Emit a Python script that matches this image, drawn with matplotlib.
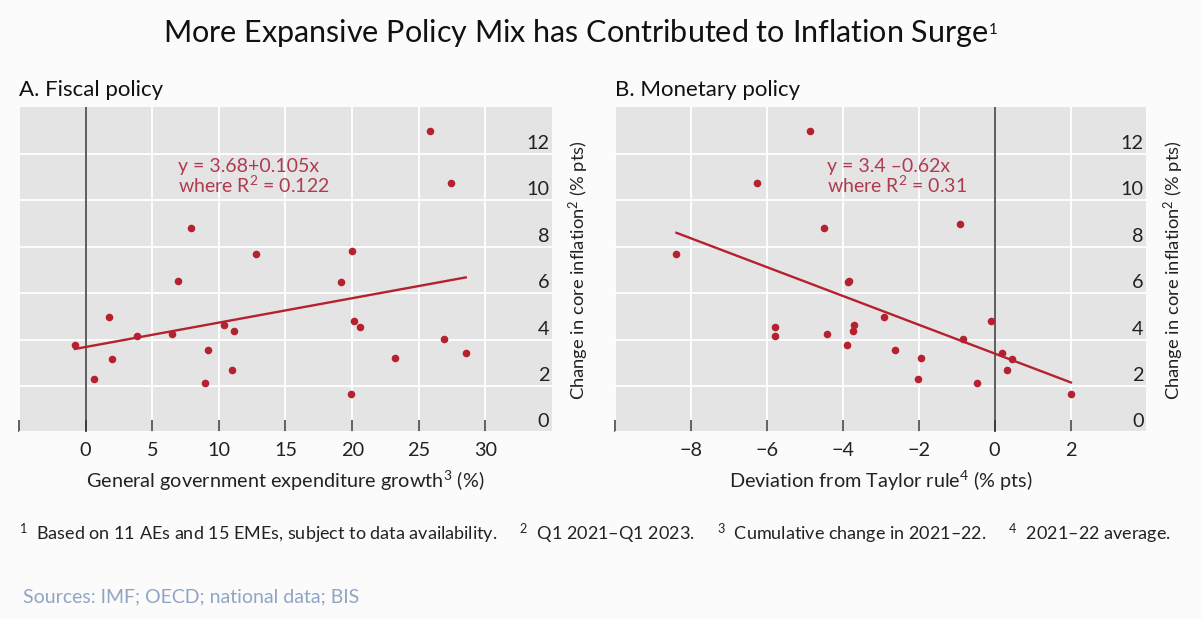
import matplotlib
matplotlib.use("Agg")
import matplotlib.pyplot as plt
import matplotlib.transforms as mtransforms
import numpy as np

plt.rcParams['font.family'] = ['Lato', 'DejaVu Sans']
plt.rcParams['mathtext.fontset'] = 'custom'
plt.rcParams['mathtext.rm'] = 'Lato'
plt.rcParams['mathtext.it'] = 'Lato:italic'
plt.rcParams['mathtext.bf'] = 'Lato:bold'

# --- DATA ---
fiscal_x = [-0.80, 0.60, 1.75, 1.98, 3.84, 6.51, 6.97, 7.89, 8.95, 9.21, 10.38, 10.98,
            11.16, 12.82, 19.13, 19.90, 19.99, 20.13, 20.59, 23.20, 25.87, 26.87, 27.44, 28.53]
fiscal_y = [3.76, 2.29, 4.97, 3.15, 4.14, 4.25, 6.54, 8.82, 2.13, 3.53, 4.64, 2.69,
            4.39, 7.68, 6.49, 1.67, 7.81, 4.82, 4.54, 3.22, 12.98, 4.02, 10.74, 3.42]

monetary_x = [-8.38, -6.26, -5.78, -5.79, -4.87, -4.50, -4.41, -3.90, -3.85, -3.83, -3.70, -3.73,
              -2.91, -2.63, -2.03, -1.93, -0.92, -0.84, -0.47, -0.09, 0.19, 0.32, 0.45, 2.01]
monetary_y = [7.68, 10.74, 4.54, 4.14, 12.98, 8.82, 4.25, 3.76, 6.49, 6.54, 4.64, 4.39,
              4.97, 3.53, 2.29, 3.22, 8.97, 4.02, 2.13, 4.82, 3.42, 2.69, 3.15, 1.67]

# regression: intercept, slope
fiscal_fit = (3.68, 0.105)
monetary_fit = (3.4, -0.62)

y_ticks = [0, 2, 4, 6, 8, 10, 12]
fiscal_xticks = [-5, 0, 5, 10, 15, 20, 25, 30]
monetary_xticks = [-10, -8, -6, -4, -2, 0, 2]

# --- STYLE ---
red = '#b5212e'
eq_red = '#b03a4e'
panel_bg = '#e4e4e4'
tick_size = 14.3

fig = plt.figure(figsize=(12.02, 6.19), dpi=100)
fig.patch.set_facecolor('#fbfbfb')

ax1 = fig.add_axes([0.0158, 0.3013, 0.4434, 0.5254])
ax2 = fig.add_axes([0.5116, 0.3013, 0.4422, 0.5254])


def draw_panel(ax, xs, ys, fit, xlim, xticks, xlabel, title, eq_text, eq_x):
    ax.set_facecolor(panel_bg)
    for s in ax.spines.values():
        s.set_visible(False)
    ax.set_xlim(xlim)
    ax.set_ylim(0, 14)

    ax.set_xticks(xticks)
    ax.set_xticklabels(['' if t == xlim[0] else str(t).replace('-', '\u2212') for t in xticks])
    ax.set_yticks(y_ticks)
    ax.set_yticklabels([str(t) for t in y_ticks])

    ax.grid(True, color='white', lw=1.3)
    ax.set_axisbelow(True)

    ax.tick_params(axis='x', direction='in', length=9, width=1.3, color='#555555',
                   labelsize=tick_size, labelcolor='#222222', pad=7)
    ax.yaxis.tick_right()
    ax.tick_params(axis='y', length=0, pad=-2, labelsize=tick_size, labelcolor='#222222')
    offset = mtransforms.ScaledTranslation(0, 0.12, fig.dpi_scale_trans)
    for lbl in ax.get_yticklabels():
        lbl.set_horizontalalignment('right')
        lbl.set_transform(lbl.get_transform() + offset)

    # zero line
    ax.axvline(0, color='#333333', lw=1.1, zorder=2)

    # regression line over the data range
    xf = np.array([min(xs), max(xs)])
    ax.plot(xf, fit[0] + fit[1] * xf, color=red, lw=1.7, zorder=3)
    ax.scatter(xs, ys, s=30, color=red, linewidths=0, zorder=4)

    ax.text(eq_x, 11.0, eq_text, color=eq_red, fontsize=14, ha='left', va='center',
            linespacing=0.95)

    ax.set_xlabel(xlabel, fontsize=tick_size, color='#222222', labelpad=7)
    ax.yaxis.set_label_position('right')
    ax.set_ylabel('Change in core inflation$^2$ (% pts)', fontsize=13.2,
                  color='#222222', labelpad=11)

    ax.text(0.0, 1.0 + 11.5 / (0.5254 * 619), title, transform=ax.transAxes, fontsize=16,
            color='#111111', ha='left', va='baseline')


draw_panel(ax1, fiscal_x, fiscal_y, fiscal_fit, (-5, 35), fiscal_xticks,
           'General government expenditure growth$^3$ (%)', 'A. Fiscal policy',
           'y = 3.68+0.105x\nwhere R$^2$ = 0.122', 6.9)
draw_panel(ax2, monetary_x, monetary_y, monetary_fit, (-10, 4), monetary_xticks,
           'Deviation from Taylor rule$^4$ (% pts)', 'B. Monetary policy',
           'y = 3.4 \u20130.62x\nwhere R$^2$ = 0.31', -4.42)

fig.text(0.4826, 0.9326, 'More Expansive Policy Mix has Contributed to Inflation Surge$^{_1}$',
         fontsize=22, color='#111111', ha='center', va='baseline')

fig.text(0.0158, 0.1276,
         '$^1$  Based on 11 AEs and 15 EMEs, subject to data availability.     '
         '$^2$  Q1 2021\u2013Q1 2023.     $^3$  Cumulative change in 2021\u201322.     '
         '$^4$  2021\u201322 average.',
         fontsize=13, color='#222222', ha='left', va='baseline')

fig.text(0.019, 0.0275, 'Sources: IMF; OECD; national data; BIS', fontsize=14,
         color='#8fa5c4', ha='left', va='baseline')

fig.savefig('out.png', dpi=100, facecolor=fig.get_facecolor())
